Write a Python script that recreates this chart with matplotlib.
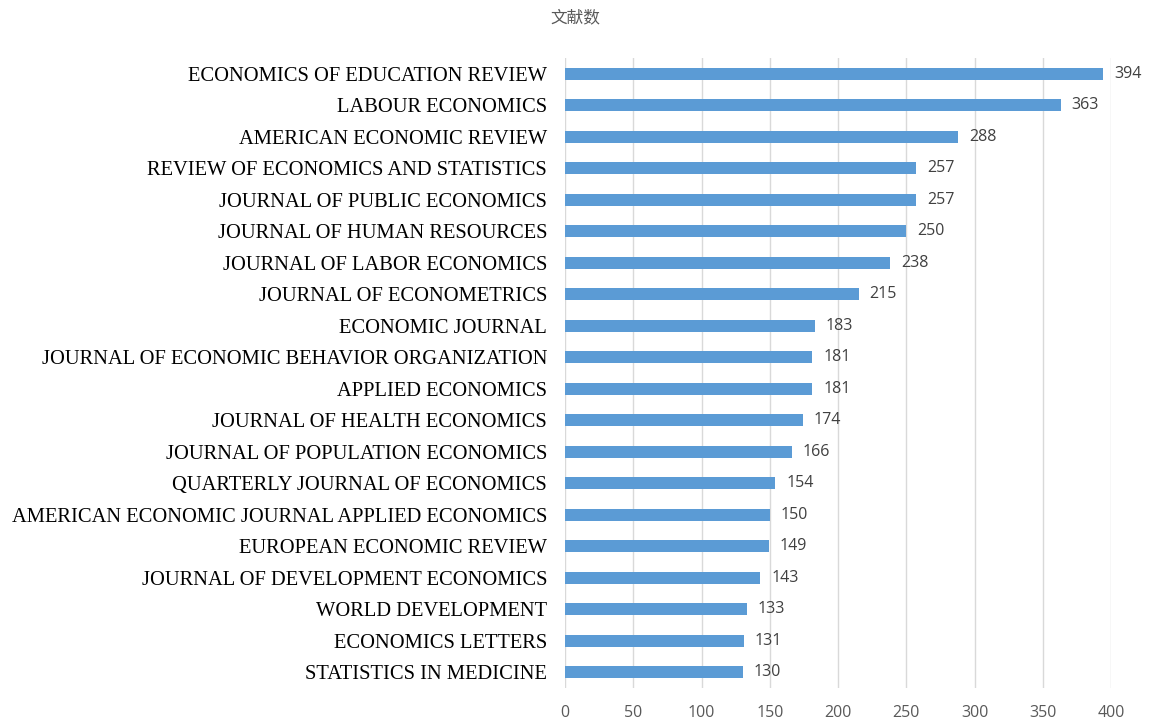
import matplotlib.pyplot as plt

journals = [
    "ECONOMICS OF EDUCATION REVIEW",
    "LABOUR ECONOMICS",
    "AMERICAN ECONOMIC REVIEW",
    "REVIEW OF ECONOMICS AND STATISTICS",
    "JOURNAL OF PUBLIC ECONOMICS",
    "JOURNAL OF HUMAN RESOURCES",
    "JOURNAL OF LABOR ECONOMICS",
    "JOURNAL OF ECONOMETRICS",
    "ECONOMIC JOURNAL",
    "JOURNAL OF ECONOMIC BEHAVIOR ORGANIZATION",
    "APPLIED ECONOMICS",
    "JOURNAL OF HEALTH ECONOMICS",
    "JOURNAL OF POPULATION ECONOMICS",
    "QUARTERLY JOURNAL OF ECONOMICS",
    "AMERICAN ECONOMIC JOURNAL APPLIED ECONOMICS",
    "EUROPEAN ECONOMIC REVIEW",
    "JOURNAL OF DEVELOPMENT ECONOMICS",
    "WORLD DEVELOPMENT",
    "ECONOMICS LETTERS",
    "STATISTICS IN MEDICINE",
]
counts = [394, 363, 288, 257, 257, 250, 238, 215, 183, 181,
          181, 174, 166, 154, 150, 149, 143, 133, 131, 130]
x_ticks = [0, 50, 100, 150, 200, 250, 300, 350, 400]

fig = plt.figure(figsize=(11.51, 7.2), dpi=100)
ax = fig.add_axes([0.491, 0.0444, 0.4744, 0.8750])

pos = list(range(len(journals)))
ax.barh(pos, counts, height=0.38, color="#5B9BD5", zorder=3)

# value labels right of each bar
for p, v in zip(pos, counts):
    ax.text(v + 8, p, str(v), va="center", ha="left",
            fontsize=11.5, color="#404040", family="Open Sans")

ax.set_yticks(pos)
ax.set_yticklabels(journals, family="Liberation Serif", fontsize=14.8, color="#000000")
ax.set_ylim(len(journals) - 0.5, -0.5)

ax.set_xlim(0, 400)
ax.set_xticks(x_ticks)
ax.set_xticklabels([str(t) for t in x_ticks], family="Open Sans", fontsize=11.5, color="#595959")
ax.tick_params(axis="x", length=0, pad=12)
ax.tick_params(axis="y", length=0, pad=13)
ax.grid(axis="x", color="#D9D9D9", linewidth=1, zorder=0)
for s in ax.spines.values():
    s.set_visible(False)
ax.set_axisbelow(True)

fig.text(0.5, 0.975, "文献数", ha="center", va="center",
         fontsize=12, color="#595959", family=["Noto Sans CJK SC", "DejaVu Sans"])

fig.savefig("out.png", dpi=100)
